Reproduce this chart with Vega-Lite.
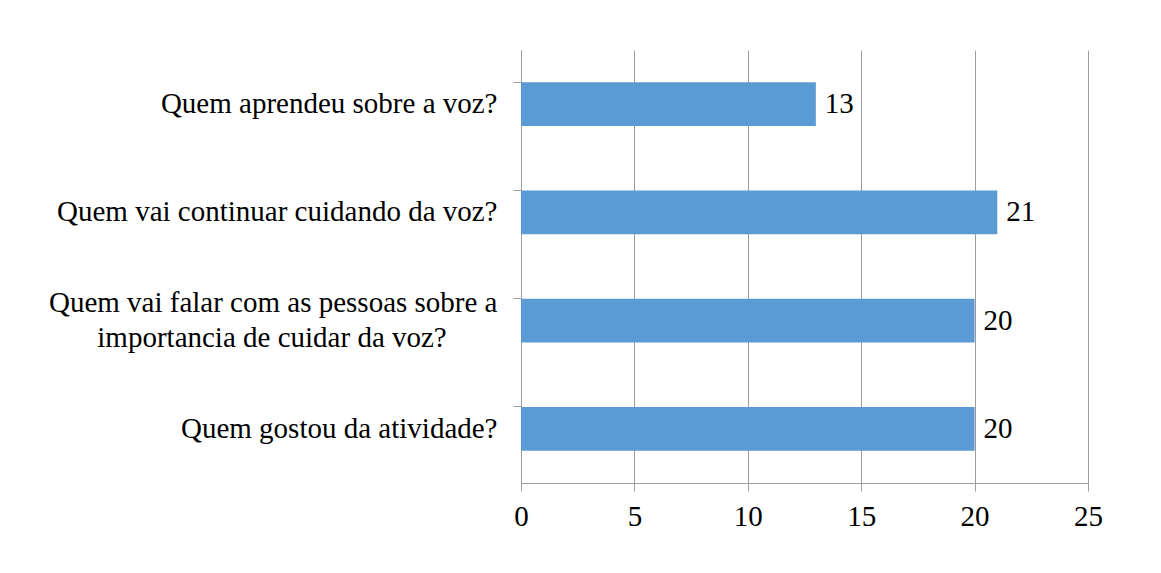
{
  "$schema": "https://vega.github.io/schema/vega-lite/v6.json",
  "width": 567,
  "height": 433,
  "autosize": "none",
  "padding": {"left": 521, "top": 50, "right": 73, "bottom": 90},
  "background": "white",
  "config": {
    "view": {"stroke": null},
    "font": "'Times New Roman', 'Liberation Serif', serif"
  },
  "data": {
    "values": [
      {"pergunta": "Quem aprendeu sobre a voz?", "valor": 13},
      {"pergunta": "Quem vai continuar cuidando da voz?", "valor": 21},
      {"pergunta": "Quem vai falar com as pessoas sobre a importancia de cuidar da voz?", "valor": 20},
      {"pergunta": "Quem gostou da atividade?", "valor": 20}
    ]
  },
  "encoding": {
    "y": {
      "field": "pergunta",
      "type": "nominal",
      "sort": null,
      "title": null,
      "scale": {"paddingInner": 0.594, "paddingOuter": 0.297},
      "axis": {
        "domainColor": "#9C9C9C",
        "tickColor": "#9C9C9C",
        "tickSize": 8,
        "bandPosition": 0,
        "labelFont": "'Times New Roman', 'Liberation Serif', serif",
        "labelFontSize": 29,
        "labelColor": "#000000",
        "labelPadding": 16,
        "labelLimit": 700,
        "labelLineHeight": 35,
        "labelOffset": {"condition": {"test": "indexof(datum.value, 'importancia') > 0", "value": -18}, "value": 0},
        "labelExpr": "indexof(datum.value, 'importancia') > 0 ? ['Quem vai falar com as pessoas sobre a', 'importancia de cuidar da voz?\u00a0\u00a0\u00a0\u00a0\u00a0\u00a0\u00a0\u200b'] : datum.value"
      }
    },
    "x": {
      "field": "valor",
      "type": "quantitative",
      "title": null,
      "scale": {"domain": [0, 25], "nice": false},
      "axis": {
        "values": [0, 5, 10, 15, 20, 25],
        "grid": true,
        "gridColor": "#9C9C9C",
        "domainColor": "#9C9C9C",
        "tickColor": "#9C9C9C",
        "tickSize": 8,
        "labelFlush": false,
        "labelFont": "'Times New Roman', 'Liberation Serif', serif",
        "labelFontSize": 29,
        "labelColor": "#000000",
        "labelPadding": 11
      }
    }
  },
  "layer": [
    {"mark": {"type": "bar", "color": "#5B9BD5"}},
    {
      "mark": {"type": "text", "align": "left", "dx": 9, "font": "'Times New Roman', 'Liberation Serif', serif", "fontSize": 29, "color": "#000000"},
      "encoding": {"text": {"field": "valor", "type": "quantitative"}}
    }
  ]
}
